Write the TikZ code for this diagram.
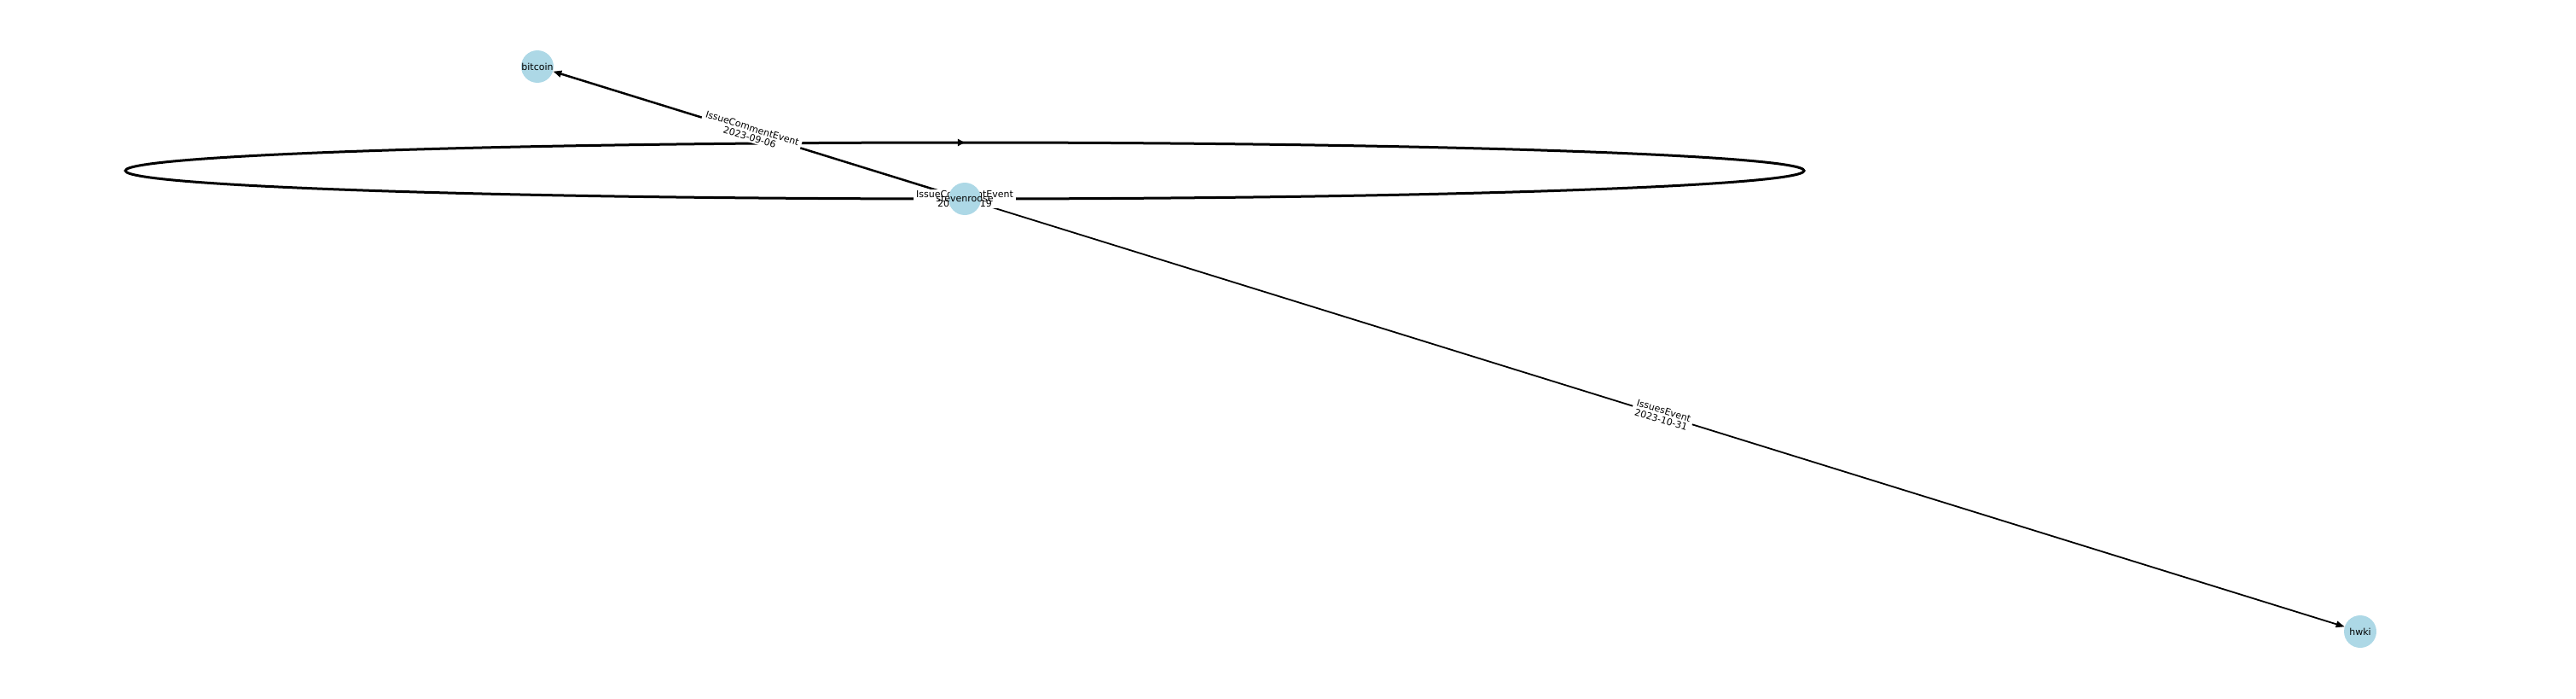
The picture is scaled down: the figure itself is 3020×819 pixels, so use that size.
\documentclass[tikz,border=0pt]{standalone}
\usepackage{fontspec}
\setmainfont{DejaVu Sans}
\usetikzlibrary{arrows.meta,decorations.markings}
\definecolor{nodeblue}{RGB}{173,216,230}
\pgfdeclarelayer{bg}
\pgfsetlayers{bg,main}
\begin{document}
\begin{tikzpicture}[x=1pt,y=1pt,
  vertex/.style={circle,fill=nodeblue,minimum size=38pt,inner sep=0pt,font=\fontsize{11}{11}\selectfont},
  edgelabel/.style={fill=white,inner xsep=3.5pt,inner ysep=1.5pt,align=center,font=\fontsize{11}{11}\selectfont},
  edgeline/.style={draw=black,-{Triangle[length=10pt,width=7.5pt]}},
  loopline/.style={draw=black,line width=3pt,postaction={decorate},
    decoration={markings,mark=at position 0.5 with {\arrow{Triangle[length=8pt,width=8pt]}}}},
]
\useasboundingbox (0,0) rectangle (3020,-819);
\node[vertex] (sr) at (1131,-233) {\makebox[0pt]{stevenroose}};
\node[vertex] (bitcoin) at (630,-78) {\makebox[0pt]{bitcoin}};
\node[vertex] (hwki) at (2767,-740) {\makebox[0pt]{hwki}};
\begin{pgfonlayer}{bg}
  \draw[loopline] (sr.center) arc[start angle=-90,end angle=-450,x radius=984pt,y radius=33pt];
  \draw[edgeline,line width=2.5pt] (sr) -- (bitcoin)
    node[midway,sloped,edgelabel] (l1) {IssueCommentEvent\\2023-09-06};
  \draw[edgeline,line width=1.8pt] (sr) -- (hwki)
    node[midway,sloped,edgelabel] (l2) {IssuesEvent\\2023-10-31};
  \node[edgelabel] (l3) at (sr.center) {IssueCommentEvent\\2023-09-19};
\end{pgfonlayer}
\end{tikzpicture}
\end{document}
